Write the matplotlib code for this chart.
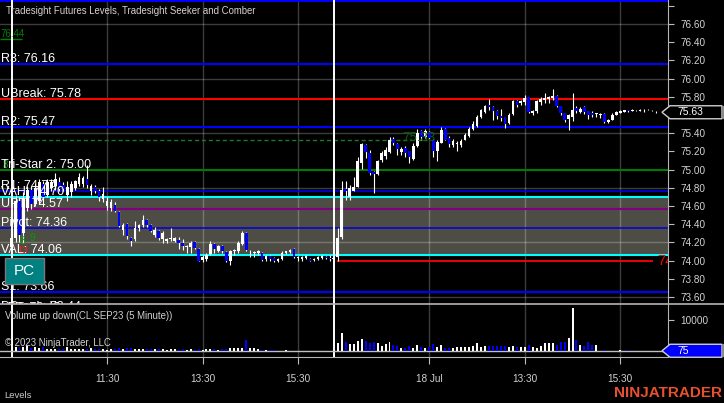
import numpy as np
import matplotlib
matplotlib.use('Agg')
import matplotlib.pyplot as plt
from matplotlib.patches import Polygon, Rectangle
from matplotlib.lines import Line2D
from matplotlib import transforms

W, H = 724, 403
plt.rcParams['font.family'] = ['Liberation Sans', 'DejaVu Sans']

# ---- 5 minute bars, CL SEP23 (two sessions: 17 Jul, 18 Jul) ----
opens = [
    74.15, 74.25, 74.66, 74.30, 74.58, 74.78, 74.62, 74.66, 74.84, 74.72,
    74.80, 74.82, 74.86, 74.83, 74.72, 74.75, 74.80, 74.84, 74.84, 74.90,
    74.76, 74.81, 74.76, 74.68, 74.60, 74.58, 74.61, 74.53, 74.34, 74.40,
    74.25, 74.24, 74.36, 74.39, 74.45, 74.39, 74.28, 74.32, 74.24, 74.22,
    74.24, 74.22, 74.23, 74.19, 74.15, 74.15, 74.20, 74.13, 74.01, 74.02,
    74.07, 74.18, 74.11, 74.16, 74.09, 74.00, 74.10, 74.10, 74.18, 74.30,
    74.10, 74.08, 74.08, 74.08, 74.02, 74.05, 74.03, 74.00, 74.02, 74.08,
    74.09, 74.13, 74.03, 74.02, 74.03, 74.02, 74.01, 74.02, 74.03, 74.04,
    74.03,
    74.02, 74.04, 74.26, 74.79, 74.70, 74.76, 74.81, 75.07, 75.27, 75.18,
    74.97, 74.95, 75.10, 75.15, 75.19, 75.34, 75.28, 75.19, 75.24, 75.20,
    75.12, 75.26, 75.42, 75.36, 75.41, 75.33, 75.20, 75.29, 75.45, 75.35,
    75.27, 75.28, 75.27, 75.33, 75.37, 75.45, 75.48, 75.58, 75.63, 75.71,
    75.69, 75.64, 75.59, 75.58, 75.51, 75.61, 75.75, 75.73, 75.74, 75.80,
    75.62, 75.64, 75.74, 75.76, 75.78, 75.79, 75.81, 75.70, 75.62, 75.56,
    75.58, 75.68, 75.63, 75.69, 75.64, 75.62, 75.61, 75.60, 75.61, 75.52,
    75.55, 75.60, 75.62, 75.63, 75.65, 75.64, 75.66, 75.64, 75.65, 75.65,
    75.66, 75.63,
]
highs = [
    74.30, 74.72, 74.70, 74.75, 74.82, 74.82, 74.85, 74.90, 74.88, 74.90,
    74.90, 74.96, 74.92, 74.86, 74.87, 74.87, 74.89, 74.96, 74.93, 75.05,
    74.84, 74.83, 74.79, 74.81, 74.70, 74.68, 74.64, 74.55, 74.41, 74.41,
    74.26, 74.43, 74.40, 74.50, 74.46, 74.40, 74.37, 74.34, 74.33, 74.25,
    74.36, 74.26, 74.26, 74.24, 74.17, 74.22, 74.21, 74.14, 74.06, 74.08,
    74.21, 74.19, 74.17, 74.17, 74.10, 74.12, 74.13, 74.21, 74.32, 74.31,
    74.12, 74.10, 74.12, 74.09, 74.06, 74.06, 74.04, 74.03, 74.10, 74.11,
    74.13, 74.14, 74.05, 74.05, 74.06, 74.03, 74.03, 74.05, 74.06, 74.05,
    74.06,
    74.06, 74.36, 74.87, 74.87, 74.83, 74.92, 75.14, 75.29, 75.28, 75.22,
    74.98, 75.11, 75.20, 75.25, 75.36, 75.36, 75.29, 75.25, 75.26, 75.20,
    75.29, 75.45, 75.44, 75.45, 75.42, 75.34, 75.32, 75.47, 75.46, 75.37,
    75.34, 75.31, 75.34, 75.40, 75.47, 75.53, 75.60, 75.67, 75.71, 75.78,
    75.70, 75.66, 75.67, 75.58, 75.62, 75.765, 75.77, 75.765, 75.82, 75.80,
    75.66, 75.765, 75.80, 75.84, 75.81, 75.89, 75.82, 75.70, 75.62, 75.61,
    75.84, 75.70, 75.69, 75.70, 75.64, 75.64, 75.62, 75.62, 75.62, 75.56,
    75.62, 75.64, 75.65, 75.655, 75.65, 75.67, 75.66, 75.67, 75.67, 75.67,
    75.66, 75.64,
]
lows = [
    74.10, 74.20, 74.20, 74.19, 74.55, 74.57, 74.60, 74.62, 74.66, 74.70,
    74.76, 74.78, 74.76, 74.77, 74.65, 74.70, 74.78, 74.82, 74.81, 74.80,
    74.72, 74.74, 74.66, 74.64, 74.56, 74.54, 74.53, 74.37, 74.28, 74.24,
    74.16, 74.22, 74.32, 74.37, 74.37, 74.31, 74.26, 74.23, 74.19, 74.19,
    74.22, 74.20, 74.13, 74.12, 74.08, 74.08, 74.13, 74.00, 73.99, 74.00,
    74.06, 74.08, 74.09, 74.08, 73.99, 73.95, 74.06, 74.08, 74.17, 74.11,
    74.04, 74.04, 74.06, 74.00, 74.00, 74.00, 73.99, 73.99, 74.01, 74.07,
    74.08, 74.03, 74.00, 74.00, 74.02, 74.00, 74.00, 74.01, 74.02, 74.02,
    74.00,
    73.99, 74.00, 74.24, 74.67, 74.67, 74.76, 74.81, 75.01, 75.13, 74.94,
    74.74, 74.94, 75.08, 75.12, 75.18, 75.27, 75.16, 75.16, 75.14, 75.07,
    75.11, 75.25, 75.33, 75.35, 75.34, 75.14, 75.09, 75.29, 75.32, 75.25,
    75.25, 75.20, 75.25, 75.32, 75.36, 75.44, 75.47, 75.57, 75.62, 75.66,
    75.55, 75.56, 75.53, 75.455, 75.50, 75.60, 75.69, 75.71, 75.71, 75.62,
    75.60, 75.62, 75.71, 75.73, 75.73, 75.76, 75.69, 75.60, 75.52, 75.435,
    75.53, 75.62, 75.62, 75.61, 75.56, 75.58, 75.58, 75.57, 75.51, 75.51,
    75.54, 75.60, 75.62, 75.63, 75.63, 75.64, 75.64, 75.64, 75.63, 75.65,
    75.64, 75.62,
]
closes = [
    74.25, 74.65, 74.28, 74.68, 74.78, 74.62, 74.80, 74.86, 74.70, 74.86,
    74.86, 74.90, 74.79, 74.79, 74.81, 74.84, 74.87, 74.92, 74.91, 74.83,
    74.82, 74.76, 74.70, 74.73, 74.66, 74.64, 74.54, 74.38, 74.39, 74.27,
    74.22, 74.36, 74.39, 74.45, 74.39, 74.33, 74.34, 74.25, 74.30, 74.24,
    74.25, 74.25, 74.19, 74.16, 74.16, 74.19, 74.14, 74.00, 74.04, 74.06,
    74.18, 74.13, 74.16, 74.10, 74.00, 74.10, 74.12, 74.19, 74.30, 74.12,
    74.11, 74.09, 74.10, 74.01, 74.05, 74.02, 74.00, 74.02, 74.08, 74.10,
    74.12, 74.04, 74.04, 74.04, 74.05, 74.00, 74.02, 74.04, 74.05, 74.03,
    74.02,
    74.03, 74.25, 74.78, 74.76, 74.80, 74.81, 75.09, 75.28, 75.19, 74.96,
    74.95, 75.09, 75.18, 75.22, 75.33, 75.29, 75.23, 75.23, 75.18, 75.14,
    75.26, 75.40, 75.36, 75.42, 75.35, 75.20, 75.30, 75.44, 75.33, 75.28,
    75.31, 75.29, 75.31, 75.38, 75.45, 75.50, 75.58, 75.65, 75.70, 75.69,
    75.64, 75.59, 75.57, 75.50, 75.60, 75.75, 75.71, 75.75, 75.79, 75.63,
    75.64, 75.75, 75.78, 75.79, 75.80, 75.81, 75.70, 75.62, 75.55, 75.60,
    75.65, 75.64, 75.67, 75.63, 75.60, 75.60, 75.61, 75.61, 75.52, 75.55,
    75.60, 75.63, 75.64, 75.65, 75.64, 75.66, 75.65, 75.66, 75.66, 75.66,
    75.65, 75.63,
]
volumes = [
    950, 1270, 1270, 1270, 1480, 950, 1270, 950, 1270, 635,
    635, 635, 635, 635, 1270, 635, 635, 635, 635, 635,
    950, 635, 635, 635, 420, 635, 635, 950, 635, 950,
    1060, 635, 635, 635, 635, 635, 635, 635, 635, 420,
    635, 635, 420, 635, 420, 635, 420, 635, 420, 635,
    635, 635, 420, 635, 635, 950, 950, 950, 1060, 3390,
    1060, 950, 635, 420, 320, 420, 200, 150, 150, 320,
    150, 120, 100, 150, 100, 120, 100, 150, 100, 120,
    100,
    300, 2540, 5710, 2860, 2100, 2100, 3070, 3700, 3070, 2540,
    2860, 2540, 1590, 2220, 2750, 1800, 1590, 850, 850, 1480,
    1060, 1800, 1160, 850, 1270, 2100, 1270, 1800, 850, 1060,
    850, 1160, 1160, 1160, 1160, 1480, 2430, 1270, 1480, 1690,
    1590, 1480, 1480, 1480, 1160, 1480, 1160, 1160, 1160, 1800,
    1160, 850, 1480, 2430, 2430, 2430, 1800, 2750, 2750, 4020,
    13540, 3390, 1800, 1480, 2750, 1800, 1800, 150, 200, 120,
    100, 150, 180, 120, 200, 100, 120, 100, 150, 100,
    120, 75,
]

session_starts = [0, 81]
time_ticks = [24, 48, 72, 105, 129, 153]
time_labels = ['11:30', '13:30', '15:30', '18 Jul', '13:30', '15:30']

# Tradesight levels
level_names = ['R3', 'UBreak', 'R2', 'Tri-Star 2', 'VAH', 'R1', 'UPT', 'Pivot', 'VAL', 'S1', 'LPT', 'DBreak']
level_values = [76.16, 75.78, 75.47, 75.00, 74.70, 74.77, 74.57, 74.36, 74.06, 73.66, 73.42, 73.44]
level_colors = {'R3': '#0000ff', 'UBreak': '#ff0000', 'R2': '#0000ff', 'Tri-Star 2': '#007a00',
                'VAH': '#00ffff', 'R1': '#0000ff', 'UPT': '#800080', 'Pivot': '#0000dd',
                'VAL': '#00ffff', 'S1': '#0000ff', 'LPT': '#0000ff', 'DBreak': '#ff0000'}
top_level = 76.85
seeker_level = 76.44
comber_level = 75.33
close_level = 74.00

fig = plt.figure(figsize=(W / 100, H / 100), dpi=100, facecolor='black')


def fx(x):
    return x / W


def fy(y):
    return 1 - y / H


ax = fig.add_axes([0, fy(304), fx(668), 304 / H], facecolor='black')
axv = fig.add_axes([0, fy(357), fx(668), 53 / H], facecolor='black')

xlim = (-2.9, 165.0)
ax.set_xlim(*xlim)
axv.set_xlim(*xlim)
ax.set_ylim(73.523, 76.8637)
axv.set_ylim(-1905, 14922)

o = np.array(opens)
h = np.array(highs)
l = np.array(lows)
c = np.array(closes)
v = np.array(volumes)
idx = np.arange(len(o))
up = c >= o
bar_cols = np.where(up, '#ffffff', '#0000ff')

# value area fill
ax.axhspan(level_values[level_names.index('VAL')], level_values[level_names.index('VAH')],
           color='#4d4c45', zorder=0.5, lw=0)

# grid
for g in np.arange(73.6, 76.7, 0.6):
    ax.axhline(g, color='white', alpha=0.24, lw=1, zorder=1)
for t in time_ticks:
    ax.axvline(t, color='white', alpha=0.24, lw=1, zorder=1)
    axv.axvline(t, color='white', alpha=0.24, lw=1, zorder=1)

# level lines
ax.axhline(top_level, color='#0000ff', lw=1.4, zorder=2)
for name, val in zip(level_names, level_values):
    lw = 1.1 if name in ('R1', 'Pivot') else 1.5
    ax.axhline(val, color=level_colors[name], lw=lw, zorder=2)

# comber / seeker marks
ax.hlines(comber_level, xlim[0], 104.4, colors='#1d7a1d', linestyles=(0, (3, 2)), lw=1, zorder=2)
ax.text(98.1, comber_level, f'{comber_level:.2f}', color='#0f5f0f', fontsize=9.5,
        va='baseline', ha='left', zorder=6,
        transform=transforms.offset_copy(ax.transData, fig=fig, y=-1, units='dots'))
ax.hlines(seeker_level, xlim[0], 2.6, colors='#008000', lw=1, zorder=2)
ax.text(0, seeker_level, f'{seeker_level:.2f}', color='#008000', fontsize=7,
        va='baseline', ha='left', zorder=6,
        transform=transforms.offset_copy(ax.get_yaxis_transform(), fig=fig, y=2, units='dots'))
ax.hlines(close_level, 81.8, 161.2, colors='#ff0000', lw=1.3, zorder=2)
ax.text(162.4, close_level, f'{close_level:.2f}', color='#ff0000', fontsize=10.5,
        va='center', ha='left', clip_on=True, zorder=6)

# session breaks
for s in session_starts:
    ax.axvline(s, color='white', lw=1.4, zorder=3)
    axv.axvline(s, color='white', lw=1.4, zorder=3)

# candles
ax.vlines(idx, l, h, color='white', lw=0.8, zorder=4)
body_lo = np.minimum(o, c)
body_h = np.maximum(np.abs(c - o), 0.008)
ax.bar(idx, body_h, bottom=body_lo, width=0.66, color=bar_cols, lw=0, zorder=5)

# level labels
lab_tr = transforms.offset_copy(ax.get_yaxis_transform(), fig=fig, y=2, units='dots')
for name, val in zip(level_names, level_values):
    ax.text(1 / 668, val, f'{name}: {val:.2f}', color='white', fontsize=9,
            va='baseline', ha='left', transform=lab_tr, zorder=7, clip_on=True)

# seeker counts
ax.text(3 / 668, 75.00, '3', color='#00a000', fontsize=7, transform=lab_tr, zorder=6)
ax.text(2.0, 74.18, '8', color='#00a000', fontsize=7, zorder=6)
ax.text(4.6, 74.22, '9', color='#00a000', fontsize=7, zorder=6)
ax.text(1.5, 74.07, '13', color='#ff2020', fontsize=7, zorder=6)

# price axis
ax.yaxis.tick_right()
yt = np.round(np.arange(73.6, 76.81, 0.2), 2)
ax.set_yticks(yt)
ax.set_yticklabels([f'{t:.2f}' if t < 76.7 else '' for t in yt])
ax.tick_params(axis='y', colors='#bdbdbd', labelcolor='#d2d2d2', labelsize=7.2, length=4, pad=5, direction='out')
ax.set_xticks([])
for sp in ['left', 'top', 'bottom']:
    ax.spines[sp].set_visible(False)
ax.spines['right'].set_color('#b4b4b4')

# volume panel
axv.bar(idx, v, width=0.5, color=bar_cols, lw=0, zorder=4)
axv.axhline(volumes[-1], color='#bfbfbf', lw=1, zorder=3)
axv.yaxis.tick_right()
axv.set_yticks([10000])
axv.set_yticklabels(['10000'])
axv.tick_params(axis='y', colors='#bdbdbd', labelcolor='#d2d2d2', labelsize=7.2, length=4, pad=5)
axv.set_xticks(time_ticks)
axv.set_xticklabels(time_labels)
axv.tick_params(axis='x', colors='#bdbdbd', labelcolor='#d2d2d2', labelsize=7.2, length=5, pad=7)
for sp in ['left', 'top']:
    axv.spines[sp].set_visible(False)
axv.spines['right'].set_color('#b4b4b4')
axv.spines['bottom'].set_color('#b4b4b4')

# panel separator across full width
fig.add_artist(Line2D([0, 1], [fy(304), fy(304)], color='#b4b4b4', lw=1.2, transform=fig.transFigure))

# texts
fig.text(fx(6), fy(11), 'Tradesight Futures Levels, Tradesight Seeker and Comber',
         color='#d2d2d2', fontsize=6.9, va='center', ha='left')
fig.text(fx(5), fy(316), 'Volume up down(CL SEP23 (5 Minute))',
         color='#d2d2d2', fontsize=6.9, va='center', ha='left')
fig.text(fx(5), fy(343), '\u00a9 2023 NinjaTrader, LLC',
         color='#d2d2d2', fontsize=6.9, va='center', ha='left')
fig.text(fx(4), fy(395), 'Levels', color='#c8c8c8', fontsize=6.8, va='center', ha='left')
fig.text(fx(722), fy(393), 'NINJATRADER', color='#e8502f', fontsize=11, fontweight='bold',
         va='center', ha='right')

# PC box
fig.add_artist(Rectangle((fx(5), fy(284)), fx(39), 26 / H, facecolor='#008080',
                         edgecolor='#7a7a7a', lw=1, transform=fig.transFigure))
fig.text(fx(24.5), fy(271), 'PC', color='white', fontsize=11, ha='center', va='center')


def marker(axis, value, face, text):
    yp = H - axis.transData.transform((0, value))[1]
    pts = [(662, yp), (670, yp - 6.5), (722, yp - 6.5), (722, yp + 6.5), (670, yp + 6.5)]
    fig.add_artist(Polygon([(fx(px), fy(py)) for px, py in pts], closed=True,
                           facecolor=face, edgecolor='#cfcfcf', lw=1, transform=fig.transFigure))
    fig.add_artist(Rectangle((fx(722), fy(yp + 6.5)), fx(2), 13 / H, facecolor='#8a8a8a',
                             lw=0, transform=fig.transFigure))
    fig.text(fx(677), fy(yp), text, color='white', fontsize=7.5, va='center', ha='left')


marker(ax, closes[-1], 'black', f'{closes[-1]:.2f}')
marker(axv, volumes[-1], '#0000ff', f'{volumes[-1]}')

fig.savefig('out.png', dpi=100, facecolor='black')
